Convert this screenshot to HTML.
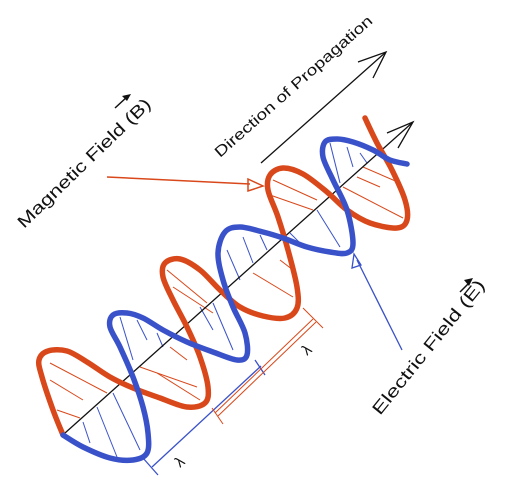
<!DOCTYPE html>
<html><head><meta charset="utf-8"><style>
html,body{margin:0;padding:0;background:#fff;width:508px;height:477px;overflow:hidden}
svg{display:block}
text{font-family:"Liberation Sans","DejaVu Sans",sans-serif;fill:#111}
</style></head><body>
<svg id="diagram" width="508" height="477" viewBox="0 0 508 477" xmlns="http://www.w3.org/2000/svg">
<g id="hatch"></g>
<line x1="65" y1="433" x2="413" y2="122" stroke="#111" stroke-width="1.3"/>
<polyline points="387,133 413,122 398,148" fill="none" stroke="#111" stroke-width="1.3"/>
<path id="orange" fill="none" stroke="#d9481a" stroke-width="5.5" stroke-linecap="round" stroke-linejoin="round"/>
<path id="blue" fill="none" stroke="#3a52c9" stroke-width="5.5" stroke-linecap="round" stroke-linejoin="round"/>

<text x="0" y="0" font-size="15" textLength="205" lengthAdjust="spacingAndGlyphs" transform="translate(220,158) rotate(-41.5)">Direction of Propagation</text>
<line x1="261" y1="163" x2="386" y2="52" stroke="#111" stroke-width="1.3"/>
<polyline points="358,62 386,52 373,78" fill="none" stroke="#111" stroke-width="1.3"/>

<text x="0" y="0" font-size="17" textLength="178" lengthAdjust="spacingAndGlyphs" transform="translate(24,229) rotate(-44)">Magnetic Field (B)</text>
<line x1="115" y1="108" x2="128" y2="96" stroke="#111" stroke-width="1.5"/>
<polygon points="131,94 122,96 127,101" fill="#111"/>
<line x1="107" y1="177" x2="250" y2="184" stroke="#d9481a" stroke-width="1.5"/>
<polygon points="248,179 263,186 248,191" fill="none" stroke="#d9481a" stroke-width="1.5"/>

<text x="0" y="0" font-size="17" textLength="168" lengthAdjust="spacingAndGlyphs" transform="translate(380,416) rotate(-51)">Electric Field (E)</text>
<line x1="460" y1="292" x2="470" y2="282" stroke="#111" stroke-width="1.5"/>
<polygon points="473,278 464,280 469,286" fill="#111"/>
<line x1="402" y1="350" x2="357" y2="260" stroke="#3a52c9" stroke-width="1.3"/>
<polygon points="354,254 352,268 361,265" fill="none" stroke="#3a52c9" stroke-width="1.3"/>

<g stroke="#3a52c9" stroke-width="1.3">
<line x1="152" y1="467" x2="261" y2="366"/>
<line x1="143" y1="458" x2="158" y2="475"/>
<line x1="255" y1="360" x2="265" y2="375"/>
</g>
<text x="0" y="0" font-size="15" transform="translate(180,468) rotate(-40)">λ</text>
<g stroke="#d9481a" stroke-width="1">
<line x1="215" y1="413" x2="313" y2="319"/>
<line x1="218" y1="416" x2="316" y2="322"/>
<line x1="212" y1="408" x2="223" y2="424"/>
<line x1="303" y1="308" x2="323" y2="328"/>
</g>
<text x="0" y="0" font-size="15" transform="translate(307,356) rotate(-40)">λ</text>
</svg>
<script>
const orangePts=[[63,435],[53,410],[42,377],[39,360],[48,351],[67,351],[87,362],[110,377],[133,388],[160,398],[187,407],[205,403],[208,387],[200,357],[187,327],[173,300],[163,277],[165,263],[180,259],[200,270],[220,290],[240,307],[263,316],[285,318],[297,308],[297,287],[288,250],[278,217],[268,190],[270,175],[283,168],[303,174],[327,192],[347,210],[370,223],[397,228],[407,220],[405,200],[392,170],[377,143],[365,118]];
const bluePts=[[63,435],[83,447],[110,458],[133,460],[147,453],[148,433],[143,407],[133,377],[120,347],[110,327],[113,315],[127,313],[143,318],[163,330],[187,342],[213,352],[237,360],[247,355],[245,333],[233,307],[223,280],[218,253],[225,232],[240,227],[263,232],[283,238],[307,247],[330,252],[347,253],[353,243],[347,210],[333,180],[323,157],[325,142],[337,139],[353,142],[373,150],[390,160],[407,164]];
const orangeHatch=[[50,363,107,393],[50,380,83,400],[57,410,80,418],[167,270,207,303],[173,287,213,313],[140,367,197,387],[157,373,200,400],[170,347,187,360],[273,180,317,200],[270,195,313,210],[253,273,293,297],[280,260,293,270],[363,167,400,183],[343,187,403,218],[357,177,380,187]];
const blueHatch=[[83,422,90,443],[97,407,117,457],[113,393,140,450],[120,317,133,360],[137,320,147,340],[157,333,163,347],[200,307,213,330],[213,303,233,350],[227,250,240,280],[243,237,253,263],[260,235,267,250],[290,233,300,243],[317,210,340,247],[330,143,340,183],[347,147,353,167],[360,153,367,163]];
function smooth(p){let d='M'+p[0][0]+','+p[0][1];for(let i=0;i<p.length-1;i++){const p0=p[Math.max(0,i-1)],p1=p[i],p2=p[i+1],p3=p[Math.min(p.length-1,i+2)];const c1=[p1[0]+(p2[0]-p0[0])/6,p1[1]+(p2[1]-p0[1])/6],c2=[p2[0]-(p3[0]-p1[0])/6,p2[1]-(p3[1]-p1[1])/6];d+=' C'+c1[0].toFixed(1)+','+c1[1].toFixed(1)+' '+c2[0].toFixed(1)+','+c2[1].toFixed(1)+' '+p2[0]+','+p2[1];}return d;}
document.getElementById('orange').setAttribute('d',smooth(orangePts));
document.getElementById('blue').setAttribute('d',smooth(bluePts));
const g=document.getElementById('hatch');const NS='http://www.w3.org/2000/svg';
orangeHatch.forEach(h=>{const l=document.createElementNS(NS,'line');


l.setAttribute('x1',h[0]);l.setAttribute('y1',h[1]);l.setAttribute('x2',h[2]);l.setAttribute('y2',h[3]);l.setAttribute('stroke','#d9481a');l.setAttribute('stroke-width','1');g.appendChild(l);});
blueHatch.forEach(h=>{const l=document.createElementNS(NS,'line');


l.setAttribute('x1',h[0]);l.setAttribute('y1',h[1]);l.setAttribute('x2',h[2]);l.setAttribute('y2',h[3]);l.setAttribute('stroke','#3a52c9');l.setAttribute('stroke-width','1');g.appendChild(l);});
</script>
</body></html>
